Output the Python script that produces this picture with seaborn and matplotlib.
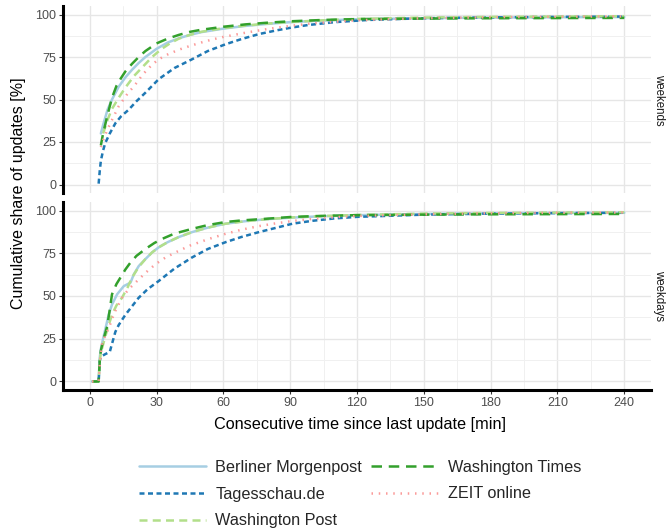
import numpy as np
import pandas as pd
import matplotlib
matplotlib.use("Agg")
import matplotlib.pyplot as plt
import matplotlib.transforms as mtransforms
from matplotlib.lines import Line2D
from matplotlib.ticker import MultipleLocator
import seaborn as sns

# ---- data: cumulative share of updates [%] by minutes since last update ----
outlets = ["Berliner Morgenpost", "Tagesschau.de", "Washington Post",
           "Washington Times", "ZEIT online"]
panels = ["weekends", "weekdays"]

# weekends
bm_we_x = [5, 6, 8, 10, 13, 16, 19, 22, 25, 30, 35, 40, 45, 50, 60, 70, 80, 90, 105, 120, 150, 180, 210, 240]
bm_we_y = [30, 35, 44, 50, 57.5, 63, 67.5, 71.5, 75, 79.8, 83.5, 86, 88, 89.6, 91.7, 93.3, 94.5, 95.5, 96.5, 97.2, 97.8, 98.2, 98.4, 98.5]
ts_we_x = [4, 4.5, 5, 6, 7, 9, 11.5, 14, 17.5, 21, 25, 31, 38, 46, 53, 61, 68, 76, 84, 91, 98, 110, 125, 150, 180, 210, 240]
ts_we_y = [0.5, 8, 14, 20, 24.5, 30, 36, 40, 44, 49, 54, 62, 68.5, 73.7, 78.5, 82.5, 85.5, 88.5, 90.7, 92.4, 93.8, 95.5, 96.8, 97.8, 98.3, 98.6, 98.8]
wp_we_x = [6, 8, 10, 13, 16, 20, 24, 28, 32, 36, 40, 45, 50, 60, 70, 80, 90, 105, 120, 150, 180, 210, 240]
wp_we_y = [30, 38, 44.5, 51, 57, 64, 69.5, 75, 79.5, 83, 85.8, 88, 89.8, 92, 93.5, 94.7, 95.6, 96.6, 97.4, 98.2, 98.6, 98.8, 99.0]
wt_we_x = [5, 6, 8, 10, 12, 14, 16, 19, 22, 25, 30, 35, 40, 45, 50, 60, 70, 80, 90, 105, 120, 150, 180, 210, 240]
wt_we_y = [23, 30, 41, 51, 58, 62.5, 66.5, 71, 75, 78.5, 83, 85.8, 88, 89.8, 91, 92.8, 94.2, 95.2, 96, 96.8, 97.3, 97.6, 97.8, 97.9, 98.0]
zo_we_x = [5, 6, 8, 10, 13, 17, 20, 24, 28, 31, 35, 40, 45, 50, 55, 60, 70, 80, 90, 100, 120, 150, 180, 210, 240]
zo_we_y = [22, 26, 32.5, 38, 46, 53.5, 58, 65, 70.5, 73.7, 76.5, 79.3, 81.5, 83.5, 85.3, 86.8, 89.3, 91.5, 93.3, 94.8, 96.6, 97.8, 98.4, 98.7, 98.9]

# weekdays
bm_wd_x = [1, 4, 4.5, 5, 6, 8.5, 10, 12.3, 15.3, 18.3, 19.8, 22, 25, 28, 31, 35, 40, 46, 53, 61, 70, 80, 91, 105, 120, 150, 180, 210, 240]
bm_wd_y = [0, 0, 14, 19, 25, 39, 45, 51, 55.8, 57.8, 62.7, 67.5, 71.6, 75.5, 78.5, 81.5, 84.5, 87.4, 90, 92.3, 93.8, 95, 95.9, 96.7, 97.3, 98, 98.4, 98.6, 98.7]
ts_wd_x = [1, 4, 4.5, 5, 7, 9, 10, 11.5, 13, 16, 19, 22, 26, 31, 38, 46, 53, 61, 68, 76, 84, 91, 100, 110, 120, 150, 180, 210, 240]
ts_wd_y = [0, 0, 12, 14.5, 16, 17.3, 22, 29, 33, 39, 44, 49, 54, 58.8, 66, 72.6, 77.5, 81.5, 84.5, 87.4, 90, 92.3, 94, 95.4, 96.3, 97.6, 98.2, 98.5, 98.7]
wp_wd_x = [1, 4, 4.5, 5, 6.3, 8, 10, 12, 14.5, 17, 19, 22, 25, 28, 31, 35, 40, 46, 53, 61, 70, 80, 91, 105, 120, 150, 180, 210, 240]
wp_wd_y = [0, 0, 12, 17, 23, 31, 39, 44.5, 49, 55, 60.8, 67, 71.6, 75.5, 78.5, 81.5, 84.5, 87.4, 90, 92.3, 93.8, 95, 96, 96.8, 97.4, 98.2, 98.6, 98.8, 99.0]
wt_wd_x = [1, 4, 4.5, 5, 6, 7.8, 9, 10, 12, 13.8, 16, 18.3, 21, 25, 29, 32.5, 38, 46, 53, 61, 68, 76, 91, 105, 120, 150, 180, 210, 240]
wt_wd_y = [0, 0, 12, 18, 24, 32, 42, 51, 57, 60.8, 65.5, 69.6, 73.5, 77.5, 81, 83.4, 86.5, 89.3, 91.5, 93.3, 94.2, 94.9, 96.3, 96.9, 97.3, 97.6, 97.8, 97.9, 98.0]
zo_wd_x = [1, 4, 4.5, 5.5, 7, 8.5, 11, 14.5, 17.5, 20.5, 25, 29.5, 34, 38.5, 45, 53.5, 61, 68.5, 76, 83.5, 91, 100, 110, 120, 150, 180, 210, 240]
zo_wd_y = [0, 0, 10, 21.7, 27, 31, 40, 49, 54, 57.8, 63.5, 68.6, 72.5, 75.5, 79.5, 83.4, 86.4, 88.9, 90.9, 92.5, 93.9, 95.1, 96.1, 96.8, 97.8, 98.4, 98.7, 98.9]

series = {
    "weekends": {
        "Berliner Morgenpost": (bm_we_x, bm_we_y),
        "Tagesschau.de": (ts_we_x, ts_we_y),
        "Washington Post": (wp_we_x, wp_we_y),
        "Washington Times": (wt_we_x, wt_we_y),
        "ZEIT online": (zo_we_x, zo_we_y),
    },
    "weekdays": {
        "Berliner Morgenpost": (bm_wd_x, bm_wd_y),
        "Tagesschau.de": (ts_wd_x, ts_wd_y),
        "Washington Post": (wp_wd_x, wp_wd_y),
        "Washington Times": (wt_wd_x, wt_wd_y),
        "ZEIT online": (zo_wd_x, zo_wd_y),
    },
}

rows = []
for panel, d in series.items():
    for name, (xs, ys) in d.items():
        for x, y in zip(xs, ys):
            rows.append({"panel": panel, "outlet": name, "minutes": x, "share": y})
df = pd.DataFrame(rows)

# ---- styling ----
palette = {
    "Berliner Morgenpost": "#a6cee3",
    "Tagesschau.de": "#1f78b4",
    "Washington Post": "#b2df8a",
    "Washington Times": "#33a02c",
    "ZEIT online": "#fb9a99",
}
dashes = {
    "Berliner Morgenpost": "",
    "Tagesschau.de": (2.0, 1.4),
    "Washington Post": (3.2, 2.1),
    "Washington Times": (4.2, 2.7),
    "ZEIT online": (0.6, 2.3),
}
LW = 1.8

sns.set_theme(style="white")
plt.rcParams["font.family"] = ["Liberation Sans", "DejaVu Sans"]
plt.rcParams["lines.dash_capstyle"] = "butt"

fig = plt.figure(figsize=(6.67, 5.30), dpi=100)
left, right = 63 / 667, 651 / 667
ax_top = fig.add_axes([left, 1 - 193 / 530, right - left, (193 - 6) / 530])
ax_bot = fig.add_axes([left, 1 - 390 / 530, right - left, (390 - 202) / 530])

for ax, panel in [(ax_top, "weekends"), (ax_bot, "weekdays")]:
    sub = df[df["panel"] == panel]
    sns.lineplot(data=sub, x="minutes", y="share", hue="outlet", style="outlet",
                 hue_order=outlets, style_order=outlets, palette=palette,
                 dashes=dashes, linewidth=LW, estimator=None, sort=False,
                 legend=False, ax=ax, zorder=3)
    ax.set_xlim(-12, 252)
    ax.set_ylim(-5, 105)
    ax.xaxis.set_major_locator(MultipleLocator(30))
    ax.xaxis.set_minor_locator(MultipleLocator(15))
    ax.yaxis.set_major_locator(MultipleLocator(25))
    ax.yaxis.set_minor_locator(MultipleLocator(12.5))
    ax.grid(True, which="major", color="#e6e6e6", linewidth=1.0, zorder=0)
    ax.grid(True, which="minor", color="#f0f0f0", linewidth=0.7, zorder=0)
    ax.set_axisbelow(True)
    for s in ["top", "right", "bottom", "left"]:
        ax.spines[s].set_visible(False)
    ax.spines["left"].set_visible(True)
    ax.spines["left"].set_color("black")
    ax.spines["left"].set_linewidth(2.2)
    ax.tick_params(axis="y", which="major", left=True, length=3, width=0.8,
                   color="#333333", labelsize=9, labelcolor="#4d4d4d", pad=2)
    ax.tick_params(axis="both", which="minor", length=0)
    ax.set_xlabel("")
    ax.set_ylabel("")
    # facet strip label on the right
    strip_tf = mtransforms.blended_transform_factory(fig.transFigure, ax.transAxes)
    ax.text(659 / 667, 0.5, panel, transform=strip_tf, rotation=-90,
            ha="center", va="center", fontsize=8.3, color="#1a1a1a")

ax_top.tick_params(axis="x", which="major", bottom=False, labelbottom=False)
ax_bot.spines["bottom"].set_visible(True)
ax_bot.spines["bottom"].set_color("black")
ax_bot.spines["bottom"].set_linewidth(2.2)
ax_bot.tick_params(axis="x", which="major", bottom=True, length=3, width=0.8,
                   color="#333333", labelsize=9, labelcolor="#4d4d4d", pad=2)

fig.text(360 / 667, 1 - 425 / 530, "Consecutive time since last update [min]",
         ha="center", va="center", fontsize=11.7, color="black")
fig.text(19 / 667, 1 - 193 / 530, "Cumulative share of updates [%]",
         ha="center", va="center", rotation=90, fontsize=11.5, color="black")

handles = [Line2D([0], [0], color=palette[o], linewidth=LW,
                  linestyle=(0, dashes[o]) if dashes[o] else "-",
                  dash_capstyle="butt")
           for o in outlets]
fig.legend(handles, outlets, loc="center", bbox_to_anchor=(360 / 667, 1 - 494 / 530),
           ncol=2, frameon=False, fontsize=11.7, handlelength=4.1,
           handletextpad=0.6, columnspacing=0.55, labelspacing=0.72,
           borderpad=0)

fig.savefig("out.png", dpi=100)
